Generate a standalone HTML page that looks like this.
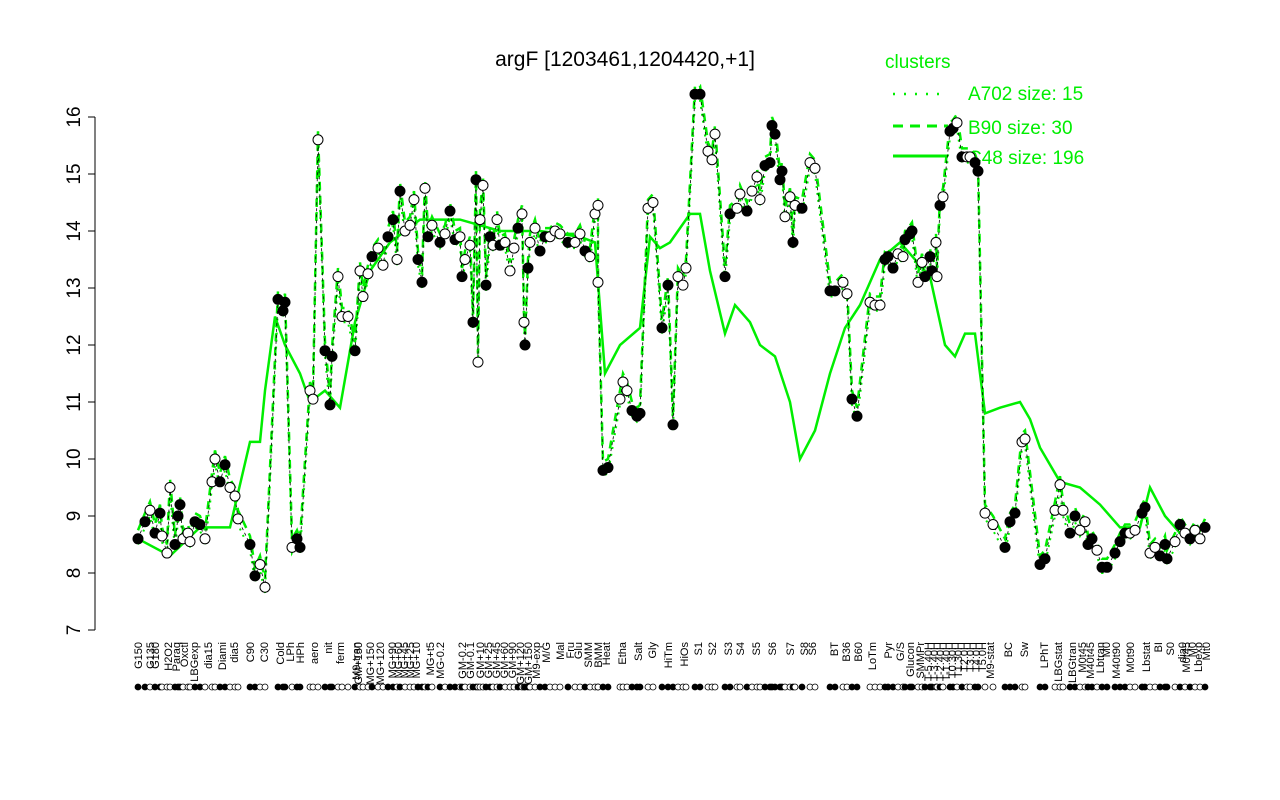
<!DOCTYPE html>
<html><head><meta charset="utf-8"><style>
body{margin:0;background:#fff}
svg{display:block;font-family:"Liberation Sans",sans-serif}
</style></head><body>
<svg id="s" width="1280" height="800" xmlns="http://www.w3.org/2000/svg">
<rect width="1280" height="800" fill="#fff"/>
<text x="625" y="66" font-size="21" text-anchor="middle">argF [1203461,1204420,+1]</text>
<g font-size="19" fill="#00ee00">
<text x="885" y="68">clusters</text>
<text x="968" y="100">A702 size: 15</text>
<text x="968" y="134">B90 size: 30</text>
<text x="968" y="164">C48 size: 196</text>
</g>
<line x1="893" y1="94" x2="948" y2="94" stroke="#00ee00" stroke-width="2.5" stroke-dasharray="2,9"/>
<line x1="893" y1="126" x2="948" y2="126" stroke="#00ee00" stroke-width="3" stroke-dasharray="10,7"/>
<line x1="893" y1="156" x2="948" y2="156" stroke="#00ee00" stroke-width="3"/>
<g id="ax" stroke="#000" fill="none"></g>
<g id="plot"></g>
<g id="lab" font-size="11"></g>
</svg>
<script>
const Y=v=>630-(v-7)*57;
const ns="http://www.w3.org/2000/svg";
function el(p,t,a,txt){const e=document.createElementNS(ns,t);for(const k in a)e.setAttribute(k,a[k]);if(txt)e.textContent=txt;p.appendChild(e);return e;}
const ax=document.getElementById('ax'),plot=document.getElementById('plot'),lab=document.getElementById('lab');
el(ax,'line',{x1:95,y1:117,x2:95,y2:630});
for(let v=7;v<=16;v++){el(ax,'line',{x1:88,y1:Y(v),x2:95,y2:Y(v)});
 const t=el(lab,'text',{x:0,y:0,'font-size':19,'text-anchor':'middle',transform:`translate(80,${Y(v)}) rotate(-90)`},String(v));}
const P=`138 8.6 f,145 8.9 f,150 9.1 o,155 8.7 f,160 9.05 f,162 8.65 o,167 8.35 o,170 9.5 o,175 8.5 f,178 9 f,180 9.2 f,183 8.6 o,188 8.7 o,190 8.55 o,195 8.9 f,200 8.85 f,205 8.6 o,212 9.6 o,215 10.0 o,220 9.6 f,225 9.9 f,230 9.5 o,235 9.35 o,238 8.95 o,250 8.5 f,255 7.95 f,260 8.15 o,265 7.75 o,278 12.8 f,283 12.6 f,285 12.75 f,292 8.45 o,297 8.6 f,300 8.45 f,310 11.2 o,313 11.05 o,318 15.6 o,325 11.9 f,330 10.95 f,332 11.8 f,338 13.2 o,342 12.5 o,348 12.5 o,355 11.9 f,360 13.3 o,363 12.85 o,368 13.25 o,372 13.55 f,378 13.7 o,383 13.4 o,388 13.9 f,393 14.2 f,397 13.5 o,400 14.7 f,405 14.0 o,410 14.1 o,414 14.55 o,418 13.5 f,422 13.1 f,425 14.75 o,428 13.9 f,432 14.1 o,440 13.8 f,445 13.95 o,450 14.35 f,455 13.85 f,460 13.9 o,462 13.2 f,465 13.5 o,470 13.75 o,473 12.4 f,476 14.9 f,478 11.7 o,480 14.2 o,483 14.8 o,486 13.05 f,490 13.9 f,493 13.75 o,497 14.2 o,500 13.75 f,505 13.8 o,510 13.3 o,514 13.7 o,518 14.05 f,522 14.3 o,524 12.4 o,525 12.0 f,528 13.35 f,530 13.8 o,535 14.05 o,540 13.65 f,545 13.9 f,550 13.9 o,555 14.0 o,560 13.95 o,568 13.8 f,575 13.8 o,580 13.95 o,585 13.65 f,590 13.55 o,595 14.3 o,598 14.45 o,598 13.1 o,603 9.8 f,608 9.85 f,620 11.05 o,623 11.35 o,627 11.2 o,632 10.85 f,637 10.75 f,640 10.8 f,648 14.4 o,653 14.5 o,662 12.3 f,668 13.05 f,673 10.6 f,678 13.2 o,683 13.05 o,686 13.35 o,695 16.4 f,700 16.4 f,708 15.4 o,712 15.25 o,715 15.7 o,725 13.2 f,730 14.3 f,737 14.4 o,740 14.65 o,747 14.35 f,752 14.7 o,757 14.95 o,760 14.55 o,765 15.15 f,770 15.2 f,772 15.85 f,775 15.7 f,780 14.9 f,782 15.05 f,785 14.25 o,790 14.6 o,793 13.8 f,795 14.45 o,802 14.4 f,810 15.2 o,815 15.1 o,830 12.95 f,835 12.95 f,843 13.1 o,847 12.9 o,852 11.05 f,857 10.75 f,870 12.75 o,875 12.7 o,880 12.7 o,885 13.5 f,888 13.55 f,893 13.35 f,898 13.6 o,903 13.55 o,905 13.85 f,910 13.95 f,912 14.0 f,918 13.1 o,922 13.45 o,925 13.2 f,930 13.55 f,932 13.3 f,936 13.8 o,937 13.2 o,940 14.45 f,943 14.6 o,950 15.75 f,953 15.8 f,957 15.9 o,962 15.3 f,967 15.3 o,970 15.3 o,975 15.2 f,978 15.05 f,985 9.05 o,993 8.85 o,1005 8.45 f,1010 8.9 f,1015 9.05 f,1022 10.3 o,1025 10.35 o,1040 8.15 f,1045 8.25 f,1055 9.1 o,1060 9.55 o,1063 9.1 o,1070 8.7 f,1075 9.0 f,1080 8.75 o,1085 8.9 o,1088 8.5 f,1092 8.6 f,1097 8.4 o,1102 8.1 f,1107 8.1 f,1115 8.35 f,1120 8.55 f,1125 8.7 f,1130 8.7 o,1135 8.75 o,1142 9.05 f,1145 9.15 f,1150 8.35 o,1155 8.45 o,1160 8.3 f,1165 8.5 f,1167 8.25 f,1175 8.55 o,1180 8.85 f,1185 8.7 o,1190 8.6 f,1195 8.75 o,1200 8.6 o,1205 8.8 f`.split(',').map(s=>{const a=s.trim().split(' ');return [+a[0],+a[1],a[2]];});
const C=[[138,8.6],[170,8.3],[200,8.8],[230,8.8],[250,10.3],[260,10.3],[265,11.2],[275,12.5],[285,12.0],[300,11.5],[310,11.0],[325,11.2],[340,10.9],[355,12.4],[370,13.3],[390,13.8],[420,14.2],[460,14.2],[500,14.0],[540,14.0],[580,13.9],[595,13.8],[605,11.5],[620,12.0],[640,12.3],[650,13.9],[660,13.7],[670,13.8],[690,14.3],[700,14.3],[710,13.3],[725,12.2],[735,12.7],[750,12.4],[760,12.0],[775,11.8],[790,11.0],[800,10.0],[815,10.5],[830,11.5],[845,12.3],[860,12.7],[880,13.5],[900,13.8],[930,13.2],[945,12.0],[955,11.8],[965,12.2],[975,12.2],[985,10.8],[1000,10.9],[1020,11.0],[1030,10.7],[1040,10.2],[1060,9.6],[1080,9.5],[1100,9.2],[1120,8.8],[1140,8.8],[1150,9.5],[1165,9.0],[1180,8.7],[1205,8.6]];
el(plot,'polyline',{points:C.map(p=>p[0]+','+Y(p[1])).join(' '),fill:'none',stroke:'#00ee00','stroke-width':2.5});
el(plot,'polyline',{points:P.map(p=>p[0]+','+Y(p[1]+0.15)).join(' '),fill:'none',stroke:'#00ee00','stroke-width':2.5,'stroke-dasharray':'8,6'});
el(plot,'polyline',{points:P.map(p=>p[0]+','+Y(p[1]-0.1)).join(' '),fill:'none',stroke:'#00ee00','stroke-width':2,'stroke-dasharray':'2,5'});
el(plot,'polyline',{points:P.map(p=>p[0]+','+Y(p[1])).join(' '),fill:'none',stroke:'#000','stroke-width':0.8,'stroke-dasharray':'3,3'});
P.forEach(p=>{el(plot,'circle',{cx:p[0],cy:Y(p[1]),r:5,fill:p[2]=='f'?'#000':'#fff',stroke:'#000','stroke-width':1});
 el(plot,'circle',{cx:p[0],cy:687,r:3,fill:p[2]=='f'?'#000':'#fff',stroke:'#000','stroke-width':0.8});});
const L=[[138,'G150'],[150,'G135'],[155,'G180'],[168,'H2O2'],[176,'Paraq'],[184,'Oxctl'],[194,'LBGexp'],[208,'dia15'],[222,'Diami'],[234,'dia5'],[250,'C90'],[264,'C30'],[290,'LPh'],[280,'Cold'],[300,'HPh'],[314,'aero'],[328,'nit'],[340,'ferm'],[358,'GM+150'],[370,'MG+150'],[356,'M9-tran'],[380,'MG+120'],[392,'MG+90'],[398,'MG+60'],[404,'MG+45'],[410,'MG+25'],[416,'MG+10'],[430,'MG+t5'],[440,'MG-0.2'],[462,'GM-0.2'],[470,'GM-0.1'],[480,'GM+10'],[488,'GM+25'],[496,'GM+45'],[504,'GM+60'],[512,'GM+90'],[520,'GM+120'],[528,'GM+150'],[536,'M9-exp'],[546,'M/G'],[560,'Mal'],[570,'Fru'],[578,'Glu'],[588,'SMM'],[598,'BMM'],[606,'Heat'],[622,'Etha'],[638,'Salt'],[652,'Gly'],[668,'HiTm'],[684,'HiOs'],[698,'S1'],[712,'S2'],[728,'S3'],[740,'S4'],[756,'S5'],[772,'S6'],[790,'S7'],[804,'S8'],[812,'S6'],[834,'BT'],[846,'B36'],[858,'B60'],[872,'LoTm'],[888,'Pyr'],[900,'G/S'],[910,'Glucon'],[920,'SMMPr'],[928,'T-5.40H'],[934,'T-3.40H'],[940,'T-2.40H'],[946,'T-1.40H'],[952,'T0.30H'],[958,'T1.30H'],[964,'T2.0H'],[970,'T3.0H'],[976,'T4.0H'],[982,'T5.0H'],[990,'M9-stat'],[1008,'BC'],[1024,'Sw'],[1044,'LPhT'],[1058,'LBGstat'],[1072,'LBGtran'],[1082,'M0t45'],[1090,'M40t45'],[1100,'Lbtran'],[1106,'M0'],[1116,'M40t90'],[1130,'M0t90'],[1146,'Lbstat'],[1158,'BI'],[1170,'S0'],[1182,'dia0'],[1186,'M0t45'],[1192,'M0'],[1198,'Lbexp'],[1206,'Mt0']];
L.forEach(l=>el(lab,'text',{x:0,y:0,'text-anchor':'end',transform:`translate(${l[0]+4},642) rotate(-90)`},l[1]));
</script>
</body></html>
